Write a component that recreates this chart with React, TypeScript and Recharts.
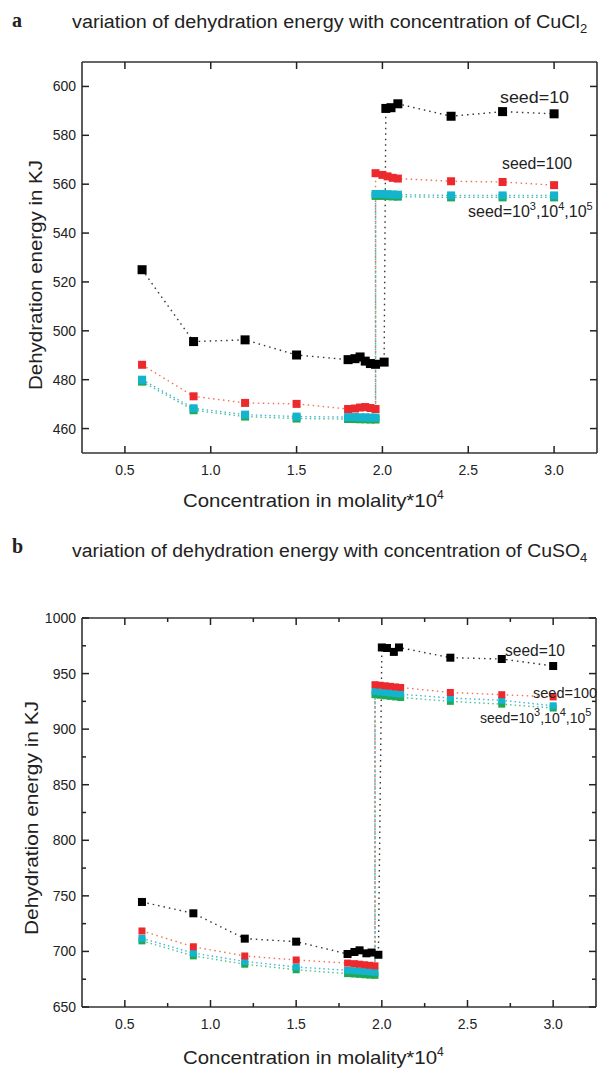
import React from 'react';
import { LineChart, Line, XAxis, YAxis } from 'recharts';

const FONT = '"Liberation Sans", Arial, sans-serif';

// ---------- Panel a : CuCl2 ----------
const aBlackConc = [0.6, 0.9, 1.2, 1.5, 1.8, 1.84, 1.87, 1.9, 1.93, 1.96, 2.01, 2.02, 2.05, 2.09, 2.4, 2.7, 3.0];
const aBlackEnergy = [525, 495.6, 496.3, 490.1, 488.2, 488.6, 489.3, 487.6, 486.6, 486.3, 487.2, 591.0, 591.3, 592.9, 587.8, 589.7, 588.8];
const aRedConc = [0.6, 0.9, 1.2, 1.5, 1.8, 1.84, 1.87, 1.9, 1.93, 1.96, 1.96, 2.0, 2.03, 2.06, 2.09, 2.4, 2.7, 3.0];
const aRedEnergy = [486.1, 473.2, 470.5, 470.1, 468.0, 468.2, 468.6, 468.8, 468.4, 468.0, 564.5, 563.8, 563.2, 562.6, 562.3, 561.2, 560.9, 559.6];
const aCyanConc = [0.6, 0.9, 1.2, 1.5, 1.8, 1.84, 1.87, 1.9, 1.93, 1.96, 1.96, 2.0, 2.03, 2.06, 2.09, 2.4, 2.7, 3.0];
const aCyanEnergy = [480.0, 468.3, 465.7, 464.9, 464.7, 464.7, 464.6, 464.6, 464.5, 464.5, 556.0, 556.0, 555.9, 555.8, 555.7, 555.4, 555.4, 555.4];
const aGreenEnergy = [479.2, 467.5, 464.9, 464.1, 463.9, 463.9, 463.8, 463.8, 463.7, 463.7, 555.2, 555.2, 555.1, 555.0, 554.9, 554.6, 554.6, 554.6];
const aYTicks = [460, 480, 500, 520, 540, 560, 580, 600];
const aXTicks = [0.5, 1.0, 1.5, 2.0, 2.5, 3.0];

// ---------- Panel b : CuSO4 ----------
const bBlackConc = [0.6, 0.9, 1.2, 1.5, 1.8, 1.84, 1.87, 1.91, 1.94, 1.98, 2.0, 2.03, 2.07, 2.1, 2.4, 2.7, 3.0];
const bBlackEnergy = [744.5, 734.3, 711.5, 708.8, 697.7, 699.5, 701.0, 698.3, 699.0, 697.0, 973.5, 973.0, 969.5, 973.5, 964.3, 963.1, 956.8];
const bColorConc = [0.6, 0.9, 1.2, 1.5, 1.8, 1.84, 1.87, 1.9, 1.93, 1.96, 1.96, 1.99, 2.02, 2.05, 2.08, 2.11, 2.4, 2.7, 3.0];
const bRedEnergy = [718.4, 704.2, 695.9, 692.3, 689.5, 689.0, 688.5, 688.0, 687.5, 687.0, 940.0, 939.5, 939.0, 938.5, 938.0, 937.5, 933.0, 931.0, 929.0];
const bCyanEnergy = [711.8, 698.5, 691.0, 686.0, 683.0, 682.7, 682.4, 682.0, 681.7, 681.3, 934.0, 933.5, 933.0, 932.5, 932.0, 931.5, 928.0, 926.0, 921.0];
const bGreenEnergy = [709.5, 696.0, 688.5, 683.5, 680.0, 679.7, 679.4, 679.0, 678.7, 678.5, 931.0, 930.5, 930.0, 929.5, 929.0, 928.5, 925.0, 922.5, 919.0];
const bYTicks = [650, 675, 700, 725, 750, 775, 800, 825, 850, 875, 900, 925, 950, 975, 1000];
const bYLabelled = [650, 700, 750, 800, 850, 900, 950, 1000];
const bXTicks = [0.5, 0.75, 1.0, 1.25, 1.5, 1.75, 2.0, 2.25, 2.5, 2.75, 3.0];
const bXLabelled = [0.5, 1.0, 1.5, 2.0, 2.5, 3.0];

const zip = (xs: number[], ys: number[]) => xs.map((x, i) => ({ x, y: ys[i] }));

const squareDot = (color: string, size: number) => (props: any) => {
  const { cx, cy, index } = props;
  if (cx == null || cy == null) return <g key={`e${index}`} />;
  return <rect key={`d${index}`} x={cx - size / 2} y={cy - size / 2} width={size} height={size} fill={color} />;
};

type Orient = 'bottom' | 'top' | 'left' | 'right';
const makeTick = (orient: Orient, labelled: number[] | null, fmt: (v: number) => string) => (props: any) => {
  const { x, y, payload } = props;
  const v = payload.value;
  const isMajor = labelled ? labelled.some((l) => Math.abs(l - v) < 1e-9) : true;
  const len = isMajor ? 7 : 4;
  let x2 = x, y2 = y;
  if (orient === 'bottom') y2 = y - len;
  if (orient === 'top') y2 = y + len;
  if (orient === 'left') x2 = x + len;
  if (orient === 'right') x2 = x - len;
  let label = null;
  if (isMajor && orient === 'bottom') {
    label = <text x={x} y={y + 22} textAnchor="middle" fontSize={14} fontFamily={FONT} fill="#222">{fmt(v)}</text>;
  }
  if (isMajor && orient === 'left') {
    label = <text x={x - 6} y={y + 5} textAnchor="end" fontSize={14} fontFamily={FONT} fill="#222">{fmt(v)}</text>;
  }
  return (
    <g>
      <line x1={x} y1={y} x2={x2} y2={y2} stroke="#222" strokeWidth={1.5} />
      {label}
    </g>
  );
};

const axisLine = { stroke: '#333', strokeWidth: 1.6 };

function Panel(props: {
  height: number; margin: any; xDomain: number[]; yDomain: number[];
  xTicks: number[]; xLabelled: number[] | null; yTicks: number[]; yLabelled: number[] | null;
  series: { data: { x: number; y: number }[]; dot: string; line: string; size: number; dash: string }[];
}) {
  const { height, margin, xDomain, yDomain, xTicks, xLabelled, yTicks, yLabelled, series } = props;
  const fx = (v: number) => v.toFixed(1);
  const fy = (v: number) => String(v);
  return (
    <LineChart width={602} height={height} margin={margin} style={{ overflow: 'visible' }}>
      <XAxis xAxisId="b" type="number" dataKey="x" domain={xDomain} allowDataOverflow ticks={xTicks} interval={0}
        orientation="bottom" height={20} tickSize={0} tickMargin={0} tickLine={false} axisLine={axisLine}
        tick={makeTick('bottom', xLabelled, fx)} />
      <XAxis xAxisId="t" type="number" dataKey="x" domain={xDomain} allowDataOverflow ticks={xTicks} interval={0}
        orientation="top" height={10} tickSize={0} tickMargin={0} tickLine={false} axisLine={axisLine}
        tick={makeTick('top', xLabelled, fx)} />
      <YAxis yAxisId="l" type="number" domain={yDomain} allowDataOverflow ticks={yTicks} interval={0}
        orientation="left" width={40} tickSize={0} tickMargin={0} tickLine={false} axisLine={axisLine}
        tick={makeTick('left', yLabelled, fy)} />
      <YAxis yAxisId="r" type="number" domain={yDomain} allowDataOverflow ticks={yTicks} interval={0}
        orientation="right" width={5} tickSize={0} tickMargin={0} tickLine={false} axisLine={axisLine}
        tick={makeTick('right', yLabelled, fy)} />
      {series.map((s, i) => (
        <Line key={i} xAxisId="b" yAxisId="l" data={s.data} dataKey="y" type="linear" stroke={s.line}
          strokeWidth={1.4} strokeDasharray={s.dash} dot={squareDot(s.dot, s.size)} activeDot={false}
          isAnimationActive={false} />
      ))}
    </LineChart>
  );
}

const BLACK = '#000000';
const RED = '#ec2a2e';
const CYAN = '#14b4cf';
const GREEN = '#1faa52';

export default function App() {
  const aSeries = [
    { data: zip(aCyanConc, aGreenEnergy), dot: GREEN, line: '#4cc28a', size: 8, dash: '1.5 3' },
    { data: zip(aCyanConc, aCyanEnergy), dot: CYAN, line: '#46b4e2', size: 8, dash: '1.5 3' },
    { data: zip(aRedConc, aRedEnergy), dot: RED, line: '#f37255', size: 8, dash: '1.5 3.5' },
    { data: zip(aBlackConc, aBlackEnergy), dot: BLACK, line: '#333', size: 9, dash: '1.5 4' },
  ];
  const bSeries = [
    { data: zip(bColorConc, bGreenEnergy), dot: GREEN, line: '#4cc28a', size: 7, dash: '1.5 3' },
    { data: zip(bColorConc, bCyanEnergy), dot: CYAN, line: '#46b4e2', size: 7, dash: '1.5 3' },
    { data: zip(bColorConc, bRedEnergy), dot: RED, line: '#f37255', size: 7, dash: '1.5 3.5' },
    { data: zip(bBlackConc, bBlackEnergy), dot: BLACK, line: '#333', size: 8, dash: '1.5 4' },
  ];
  const sup = (t: string) => <tspan dy={-7} fontSize={11}>{t}</tspan>;
  return (
    <div style={{ position: 'absolute', left: 0, top: 0, width: 602, height: 1070, background: '#fff', overflow: 'hidden' }}>
      <div style={{ position: 'absolute', left: 0, top: 0 }}>
        <Panel height={520} margin={{ top: 52, right: 0, bottom: 47, left: 42 }} xDomain={[0.25, 3.25]} yDomain={[450, 610]}
          xTicks={aXTicks} xLabelled={null} yTicks={aYTicks} yLabelled={null} series={aSeries} />
      </div>
      <div style={{ position: 'absolute', left: 0, top: 540 }}>
        <Panel height={530} margin={{ top: 68, right: 1, bottom: 43, left: 42 }} xDomain={[0.25, 3.25]} yDomain={[650, 1000]}
          xTicks={bXTicks} xLabelled={bXLabelled} yTicks={bYTicks} yLabelled={bYLabelled} series={bSeries} />
      </div>
      <svg width={602} height={1070} style={{ position: 'absolute', left: 0, top: 0, pointerEvents: 'none' }}>
        <g fontFamily={FONT} fill="#222">
          {/* panel a */}
          <text x={12} y={27} fontFamily='"Liberation Serif", serif' fontWeight="bold" fontSize={20}>a</text>
          <text x={72} y={28} fontSize={18}>
            <tspan textLength={508} lengthAdjust="spacingAndGlyphs">variation of dehydration energy with concentration of CuCl</tspan>
            <tspan dy={5} fontSize={13}>2</tspan>
          </text>
          <text transform="translate(42,275) rotate(-90)" textAnchor="middle" fontSize={19} textLength={230} lengthAdjust="spacingAndGlyphs">Dehydration energy in KJ</text>
          <text x={183} y={507} fontSize={19}>
            <tspan textLength={254} lengthAdjust="spacingAndGlyphs">Concentration in molality*10</tspan>
            <tspan dy={-8} fontSize={12}>4</tspan>
          </text>
          <text x={500} y={103} fontSize={16} textLength={69} lengthAdjust="spacingAndGlyphs">seed=10</text>
          <text x={502} y={169} fontSize={16} textLength={70} lengthAdjust="spacingAndGlyphs">seed=100</text>
          <text x={468} y={217} fontSize={16}>
            <tspan>seed=10</tspan>{sup('3')}<tspan dy={7}>,10</tspan>{sup('4')}<tspan dy={7}>,10</tspan>{sup('5')}
          </text>
          {/* panel b */}
          <text x={12} y={553} fontFamily='"Liberation Serif", serif' fontWeight="bold" fontSize={20}>b</text>
          <text x={72} y={557} fontSize={18}>
            <tspan textLength={508} lengthAdjust="spacingAndGlyphs">variation of dehydration energy with concentration of CuSO</tspan>
            <tspan dy={5} fontSize={13}>4</tspan>
          </text>
          <text transform="translate(38,818) rotate(-90)" textAnchor="middle" fontSize={19} textLength={234} lengthAdjust="spacingAndGlyphs">Dehydration energy in KJ</text>
          <text x={183} y={1064} fontSize={19}>
            <tspan textLength={254} lengthAdjust="spacingAndGlyphs">Concentration in molality*10</tspan>
            <tspan dy={-8} fontSize={12}>4</tspan>
          </text>
          <text x={505} y={656} fontSize={16} textLength={60} lengthAdjust="spacingAndGlyphs">seed=10</text>
          <text x={533} y={698} fontSize={14.5}>seed=100</text>
          <text x={480} y={723} fontSize={14}>
            <tspan>seed=10</tspan>{sup('3')}<tspan dy={7}>,10</tspan>{sup('4')}<tspan dy={7}>,10</tspan>{sup('5')}
          </text>
        </g>
      </svg>
    </div>
  );
}
